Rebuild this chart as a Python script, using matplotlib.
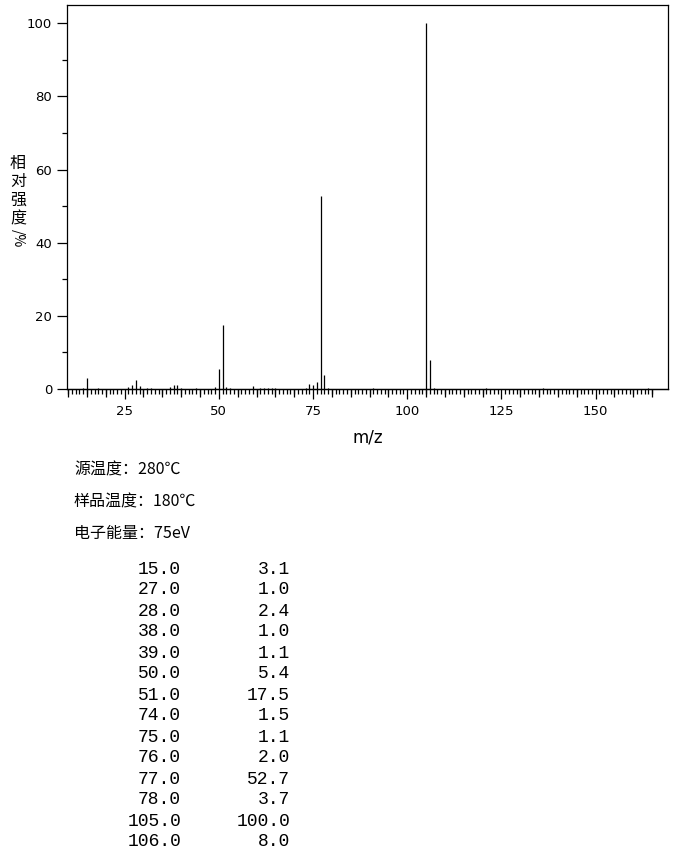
import matplotlib
matplotlib.use("Agg")
import matplotlib.pyplot as plt
import numpy as np

# ---- data ----
peak_mz = [14, 15, 18, 26, 27, 28, 29, 31, 32, 37, 38, 39, 40, 44,
           49, 50, 51, 52, 53, 59, 61, 62, 63, 64, 65,
           73, 74, 75, 76, 77, 78, 79, 91, 105, 106, 107, 121, 136, 164]
peak_int = [0.3, 3.1, 0.4, 0.6, 1.0, 2.4, 0.7, 0.3, 0.3, 0.5, 1.0, 1.1, 0.3, 0.3,
            0.5, 5.4, 17.5, 0.6, 0.4, 0.7, 0.3, 0.3, 0.3, 0.3, 0.3,
            0.3, 1.5, 1.1, 2.0, 52.7, 3.7, 0.3, 0.4, 100.0, 8.0, 0.4, 0.3, 0.4, 0.4]

info_lines = ["源温度：280℃", "样品温度：180℃", "电子能量：75eV"]
ylabel_chars = "相对强度"
ylabel_tail = "/%"
x_major = [25, 50, 75, 100, 125, 150]
y_major = [0, 20, 40, 60, 80, 100]

# table: peaks with relative intensity >= 1.0
table_rows = [(m, v) for m, v in zip(peak_mz, peak_int) if v >= 1.0]

W, H = 680, 850
fig = plt.figure(figsize=(W / 100, H / 100), dpi=100)
L, R, T, B = 67, 668, 5, 389
ax = fig.add_axes([L / W, 1 - B / H, (R - L) / W, (B - T) / H])

ax.vlines(peak_mz, 0, peak_int, colors="black", linewidth=0.9)

ax.set_xlim(9.7, 169.2)
ax.set_ylim(0, 105)

for s in ax.spines.values():
    s.set_linewidth(0.9)
    s.set_color("black")

ax.set_xticks(x_major)
ax.set_xticks([v for v in range(10, 166)], minor=True)
ax.set_yticks(y_major)
ax.set_yticks([10, 30, 50, 70, 90], minor=True)
ax.tick_params(axis="both", which="major", direction="out", length=7.2, width=0.9,
               labelsize=9.5, pad=3.5, colors="black")
ax.tick_params(axis="both", which="minor", direction="out", length=3.6, width=0.9)
ax.tick_params(axis="x", which="major", pad=4)

# medium ticks every 5
sec = ax.secondary_xaxis("bottom")
sec.set_xticks([v for v in range(10, 166, 5) if v % 25 != 0])
sec.set_xticklabels([])
sec.tick_params(direction="out", length=5.4, width=0.9)
sec.spines["bottom"].set_linewidth(0.9)

ax.set_xlabel("m/z", fontsize=12, va="center")
ax.xaxis.set_label_coords(0.5, -0.125)

cjk = ["Noto Sans CJK SC", "DejaVu Sans"]
# y label: stacked characters
fig.text(18 / W, 1 - 191 / H, "\n".join(ylabel_chars), family=cjk, fontsize=11.5,
         ha="center", va="center", linespacing=1.12)
fig.text(18 / W, 1 - 238 / H, ylabel_tail, family=cjk, fontsize=10,
         ha="center", va="center", rotation=270)

# info lines
for i, line in enumerate(info_lines):
    fig.text(74 / W, 1 - (470 + 31.5 * i) / H, line, family=cjk, fontsize=11.5,
             ha="left", va="center")

# peak table
for i, (m, v) in enumerate(table_rows):
    y = 1 - (569 + 21 * i) / H
    fig.text(181 / W, y, f"{m:.1f}", family=["Liberation Mono", "DejaVu Sans Mono"],
             fontsize=13, ha="right", va="center")
    fig.text(290 / W, y, f"{v:.1f}", family=["Liberation Mono", "DejaVu Sans Mono"],
             fontsize=13, ha="right", va="center")

fig.savefig("out.png", dpi=100)
